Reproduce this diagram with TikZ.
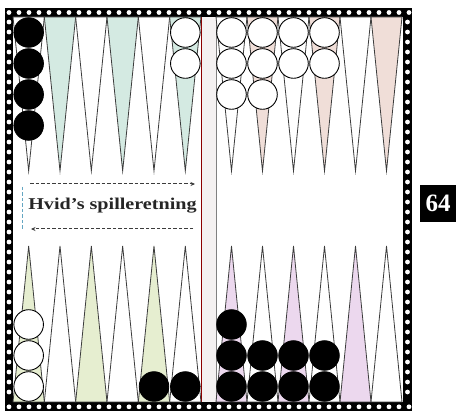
\documentclass[tikz,border=0pt]{standalone}
\usepackage{fontspec}
\setmainfont{Liberation Serif}
\usetikzlibrary{arrows.meta}
\definecolor{tlc}{RGB}{212,234,226}
\definecolor{trc}{RGB}{240,222,216}
\definecolor{blc}{RGB}{230,238,208}
\definecolor{brc}{RGB}{236,216,238}
\definecolor{barc}{RGB}{244,241,241}
\definecolor{linec}{RGB}{60,60,60}
\tikzset{
  pointtri/.style={draw=linec, line width=0.8pt, line join=miter},
  blackchk/.style={fill=black, draw=black, line width=0.8pt},
  whitechk/.style={fill=white, draw=black, line width=0.9pt},
  dasharrow/.style={dashed, dash pattern=on 3.5pt off 2pt, line width=1pt, draw=linec, -{Stealth[length=4.5pt,width=4pt]}},
}
\begin{document}
\begin{tikzpicture}[x=1pt,y=-1pt]
\useasboundingbox (0,0) rectangle (461,411);
% frame
\fill[black] (5,8) rectangle (412,411);
\fill[white] (13,17) rectangle (403,402);
\foreach \x in {9,19,...,409}{
  \fill[white] (\x,12.5) circle (2.4);
  \fill[white] (\x,406.8) circle (2.4);
}
\foreach \y in {22,32,...,400}{
  \fill[white] (9,\y) circle (2.4);
  \fill[white] (407.5,\y) circle (2.4);
}
% bar
\fill[barc] (201,17) rectangle (216,402);
\draw[red!55!black, line width=0.8pt] (201,17) -- (201,402);
\draw[gray, line width=0.6pt] (216,17) -- (216,402);
% left half triangles
\foreach \i/\ct/\cb in {0/white/blc,1/tlc/white,2/white/blc,3/tlc/white,4/white/blc,5/tlc/white}{
  \pgfmathsetmacro\xa{13+\i*31.33}
  \pgfmathsetmacro\xb{\xa+15.67}
  \pgfmathsetmacro\xc{\xa+31.33}
  \filldraw[pointtri, fill=\ct] (\xa,17) -- (\xb,171) -- (\xc,17) -- cycle;
  \filldraw[pointtri, fill=\cb] (\xa,402) -- (\xb,246) -- (\xc,402) -- cycle;
}
% right half triangles
\foreach \i/\ct/\cb in {0/white/brc,1/trc/white,2/white/brc,3/trc/white,4/white/brc,5/trc/white}{
  \pgfmathsetmacro\xa{216+\i*31}
  \pgfmathsetmacro\xb{\xa+15.5}
  \pgfmathsetmacro\xc{\xa+31}
  \filldraw[pointtri, fill=\ct] (\xa,17) -- (\xb,171) -- (\xc,17) -- cycle;
  \filldraw[pointtri, fill=\cb] (\xa,402) -- (\xb,246) -- (\xc,402) -- cycle;
}
% checkers top left
\foreach \j in {0,...,3}{ \filldraw[blackchk] (28.67,32.5+\j*31) circle (14.8); }
\foreach \j in {0,1}{ \filldraw[whitechk] (185.33,32.5+\j*31) circle (14.8); }
% checkers top right
\foreach \c/\n in {231.5/2,262.5/2,293.5/1,324.5/1}{
  \foreach \j in {0,...,\n}{ \filldraw[whitechk] (\c,32.5+\j*31) circle (14.8); }
}
% checkers bottom left
\foreach \j in {0,...,2}{ \filldraw[whitechk] (28.67,386.5-\j*31) circle (14.8); }
\filldraw[blackchk] (154,386.5) circle (14.8);
\filldraw[blackchk] (185.33,386.5) circle (14.8);
% checkers bottom right
\foreach \c/\n in {231.5/2,262.5/1,293.5/1,324.5/1}{
  \foreach \j in {0,...,\n}{ \filldraw[blackchk] (\c,386.5-\j*31) circle (14.8); }
}
% direction arrows
\coordinate (ta) at (30,184);
\coordinate (tb) at (195,184);
\coordinate (ba) at (193,229);
\coordinate (bb) at (31,229);
\coordinate (va) at (22,187);
\coordinate (vb) at (22,229);
\draw[dasharrow] (ta) -- (tb);
\draw[dasharrow] (ba) -- (bb);
\draw[dashed, dash pattern=on 3.5pt off 2pt, line width=0.9pt, draw=cyan!50!gray] (va) -- (vb);
\node[font=\bfseries\fontsize{16.5}{19}\selectfont, inner sep=0, text=black!85] (lbl) at (112.5,205.5) {\scalebox{1.22}[1]{Hvid’s spilleretning}};
% page number box
\node[fill=black, text=white, minimum width=36, minimum height=37, inner sep=0,
      font=\bfseries\fontsize{25}{25}\selectfont] (num) at (438,203.5) {64};
\end{tikzpicture}
\end{document}
